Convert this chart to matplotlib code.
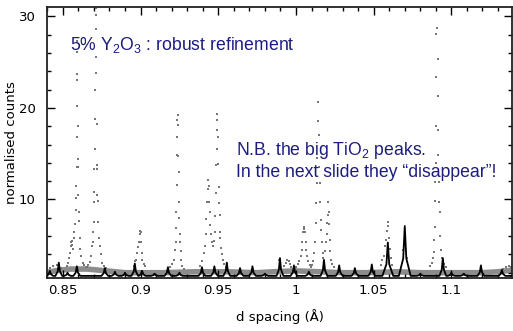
import matplotlib
matplotlib.use("Agg")
import matplotlib.pyplot as plt
from matplotlib.ticker import MultipleLocator

plt.rcParams['mathtext.fontset'] = 'custom'
plt.rcParams['mathtext.rm'] = 'Liberation Sans'

obs_d = [
    # peak near 0.859
    0.8526, 0.8533, 0.8540, 0.8546, 0.8550, 0.8554, 0.8558, 0.8562, 0.8566, 0.8570,
    0.8574, 0.8578, 0.8582, 0.8585, 0.8587, 0.8588, 0.8589, 0.8590, 0.8588, 0.8590,
    0.8592, 0.8594, 0.8595, 0.8596, 0.8597, 0.8599, 0.8601, 0.8603, 0.8608, 0.8613,
    0.8618, 0.8627, 0.8636, 0.8648, 0.8655, 0.8665,
    # peak near 0.871
    0.8675, 0.8683, 0.8690, 0.8693, 0.8697, 0.8699, 0.8701, 0.8702, 0.8703, 0.8706,
    0.8708, 0.8709, 0.8711, 0.8712, 0.8713, 0.8714, 0.8715, 0.8717, 0.8719, 0.8720,
    0.8722, 0.8723, 0.8727, 0.8733, 0.8738, 0.8744, 0.8752, 0.8762, 0.8775,
    # small bumps 0.843-0.85
    0.8420, 0.8435, 0.8465, 0.8478, 0.8490,
    # peak near 0.900
    0.8955, 0.8962, 0.8972, 0.8980, 0.8986, 0.8990, 0.8994, 0.8997, 0.9000, 0.9003,
    0.9007, 0.9012, 0.9020, 0.9030,
    # peak near 0.924
    0.9190, 0.9205, 0.9215, 0.9222, 0.9226, 0.9229, 0.9231, 0.9233, 0.9235, 0.9236,
    0.9237, 0.9238, 0.9241, 0.9243, 0.9245, 0.9247, 0.9250, 0.9252, 0.9255, 0.9257,
    0.9262, 0.9268, 0.9280,
    # doublet near 0.944 / 0.950
    0.9385, 0.9398, 0.9408, 0.9415, 0.9420, 0.9424, 0.9428, 0.9431, 0.9434, 0.9440,
    0.9443, 0.9446, 0.9450, 0.9455, 0.9460, 0.9466, 0.9472, 0.9478, 0.9482, 0.9485,
    0.9487, 0.9489, 0.9491, 0.9493, 0.9495, 0.9498, 0.9500, 0.9502, 0.9505, 0.9508,
    0.9511, 0.9514, 0.9518, 0.9522, 0.9530, 0.9540, 0.9552, 0.9556,
    # bumps near 0.990-0.995
    0.9893, 0.9925, 0.9935, 0.9945, 0.9952, 0.9960, 0.9970,
    # peak near 1.005
    1.0000, 1.0012, 1.0022, 1.0030, 1.0036, 1.0041, 1.0046, 1.0050, 1.0054, 1.0058,
    1.0062, 1.0066, 1.0072, 1.0078, 1.0088, 1.0098,
    # doublet near 1.014 / 1.021
    1.0100, 1.0110, 1.0118, 1.0124, 1.0129, 1.0131, 1.0134, 1.0137, 1.0140, 1.0142,
    1.0146, 1.0149, 1.0152, 1.0155, 1.0158, 1.0162, 1.0166, 1.0171, 1.0177, 1.0185,
    1.0192, 1.0197, 1.0201, 1.0204, 1.0207, 1.0211, 1.0214, 1.0218, 1.0222, 1.0227,
    1.0234, 1.0245,
    # peak near 1.059
    1.0545, 1.0555, 1.0565, 1.0575, 1.0582, 1.0587, 1.0590, 1.0594, 1.0598, 1.0603,
    1.0610, 1.0620, 1.0690, 1.0712,
    # peak near 1.091
    1.0865, 1.0875, 1.0883, 1.0888, 1.0890, 1.0893, 1.0895, 1.0896, 1.0899, 1.0902,
    1.0903, 1.0904, 1.0907, 1.0911, 1.0912, 1.0913, 1.0917, 1.0919, 1.0922, 1.0925,
    1.0927, 1.0932, 1.0938, 1.0946, 1.0955, 1.0965,
    # right end
    1.1190, 1.1330, 1.1350, 1.1370, 1.1385,
]
obs_counts = [
    2.7, 3.1, 3.6, 4.2, 4.9, 5.4, 5.5, 5.0, 4.6, 5.8,
    6.5, 7.3, 8.8, 10.2, 11.5, 13.5, 16.8, 20.2, 23.1, 26.1,
    27.3, 23.7, 18.0, 14.4, 13.6, 10.5, 8.6, 7.7, 5.8, 4.6,
    3.8, 3.1, 2.8, 2.6, 2.6, 2.8,
    3.2, 3.8, 4.9, 5.4, 6.4, 7.5, 9.7, 10.8, 13.3, 15.5,
    18.8, 22.0, 25.6, 28.6, 30.2, 30.9, 23.8, 18.3, 13.8, 13.3,
    10.5, 9.8, 7.5, 5.8, 4.9, 4.0, 3.1, 2.7, 2.5,
    2.5, 2.7, 2.8, 2.6, 2.5,
    2.7, 3.3, 3.4, 4.2, 4.8, 5.4, 6.2, 6.6, 6.5, 5.4,
    4.2, 3.4, 3.0, 2.7,
    2.6, 3.0, 3.4, 4.5, 5.4, 6.9, 8.6, 11.6, 14.9, 16.8,
    18.7, 19.2, 18.1, 14.7, 13.0, 9.7, 8.0, 6.2, 5.4, 4.4,
    3.4, 2.7, 2.4,
    2.7, 3.3, 4.1, 4.9, 6.2, 7.9, 9.7, 11.1, 12.1, 11.5,
    9.7, 8.6, 7.2, 6.2, 5.3, 4.9, 5.5, 6.5, 8.2, 10.7,
    13.8, 15.5, 17.6, 18.7, 19.3, 16.8, 13.9, 11.4, 9.6, 8.3,
    6.5, 5.8, 4.7, 4.0, 3.4, 2.9, 2.6, 3.0,
    3.4, 2.7, 3.1, 3.4, 3.3, 3.0, 2.6,
    2.6, 2.9, 3.3, 3.8, 4.5, 5.4, 6.4, 6.8, 7.0, 6.4,
    5.4, 4.5, 3.8, 3.3, 2.8, 2.6,
    2.8, 3.3, 4.2, 5.4, 7.4, 9.6, 11.8, 14.5, 18.6, 20.7,
    17.0, 13.5, 11.8, 9.7, 7.8, 6.7, 5.4, 4.2, 3.6, 4.4,
    5.3, 6.2, 7.4, 8.3, 9.7, 8.6, 7.3, 5.6, 4.4, 3.4,
    2.9, 2.6,
    2.8, 3.4, 3.8, 4.9, 5.6, 6.6, 7.5, 7.1, 5.8, 4.6,
    3.6, 2.8, 4.5, 3.6,
    2.7, 3.1, 3.6, 4.3, 5.6, 7.0, 9.8, 11.9, 14.0, 18.0,
    23.4, 28.1, 28.7, 25.3, 21.3, 17.6, 14.9, 11.9, 9.7, 8.6,
    6.0, 4.5, 3.6, 3.4, 2.9, 2.6,
    2.6, 2.4, 2.6, 2.7, 2.6,
]

# dense observed background (grey band)
band_d = [0.8390, 0.8450, 0.8500, 0.8550, 0.8655, 0.8780, 0.8900, 0.9050, 0.9150,
          0.9350, 0.9550, 0.9750, 0.9850, 1.0000, 1.0300, 1.0450, 1.0650, 1.0800,
          1.1000, 1.1200, 1.1300, 1.1400]
band_counts = [2.0, 2.2, 2.3, 2.4, 2.4, 2.2, 2.0, 2.0, 2.0,
               2.1, 2.1, 2.0, 2.1, 2.2, 2.0, 2.0, 2.1, 2.0,
               2.0, 2.0, 2.1, 2.3]

# calculated profile (black line)
calc_d = [
    0.8390,
    0.8394, 0.8409, 0.8416, 0.8423, 0.8438,
    0.8452, 0.8467, 0.8474, 0.8481, 0.8496,
    0.8508, 0.8523, 0.8530, 0.8537, 0.8552,
    0.8568, 0.8583, 0.8590, 0.8597, 0.8612,
    0.8748, 0.8763, 0.8770, 0.8777, 0.8792,
    0.8813, 0.8828, 0.8835, 0.8842, 0.8857,
    0.8878, 0.8893, 0.8900, 0.8907, 0.8922,
    0.8941, 0.8956, 0.8963, 0.8970, 0.8985,
    0.8988, 0.9003, 0.9010, 0.9017, 0.9032,
    0.9068, 0.9083, 0.9090, 0.9097, 0.9112,
    0.9154, 0.9169, 0.9176, 0.9183, 0.9198,
    0.9228, 0.9243, 0.9250, 0.9257, 0.9272,
    0.9373, 0.9388, 0.9395, 0.9402, 0.9417,
    0.9453, 0.9468, 0.9475, 0.9482, 0.9497,
    0.9533, 0.9548, 0.9555, 0.9562, 0.9577,
    0.9618, 0.9633, 0.9640, 0.9647, 0.9662,
    0.9698, 0.9713, 0.9720, 0.9727, 0.9742,
    0.9778, 0.9793, 0.9800, 0.9807, 0.9822,
    0.9875, 0.9890, 0.9897, 0.9904, 0.9919,
    0.9965, 0.9980, 0.9987, 0.9994, 1.0009,
    1.0061, 1.0076, 1.0083, 1.0090, 1.0105,
    1.0158, 1.0173, 1.0180, 1.0187, 1.0202,
    1.0256, 1.0271, 1.0278, 1.0285, 1.0300,
    1.0357, 1.0372, 1.0379, 1.0386, 1.0401,
    1.0466, 1.0481, 1.0488, 1.0495, 1.0510,
    1.0556, 1.0582, 1.0591, 1.0600, 1.0626,
    1.0662, 1.0690, 1.0700, 1.0710, 1.0738,
    1.0778, 1.0793, 1.0800, 1.0807, 1.0822,
    1.0923, 1.0938, 1.0945, 1.0952, 1.0967,
    1.0978, 1.0993, 1.1000, 1.1007, 1.1022,
    1.1058, 1.1073, 1.1080, 1.1087, 1.1102,
    1.1168, 1.1183, 1.1190, 1.1197, 1.1212,
    1.1303, 1.1318, 1.1325, 1.1332, 1.1347,
    1.1400,
]
calc_counts = [
    1.65,
    1.65, 1.84, 2.2, 1.84, 1.65,
    1.65, 2.16, 3.1, 2.16, 1.65,
    1.65, 1.77, 2.0, 1.77, 1.65,
    1.65, 2.02, 2.7, 2.02, 1.65,
    1.65, 1.95, 2.5, 1.95, 1.65,
    1.65, 1.81, 2.1, 1.81, 1.65,
    1.65, 1.77, 2.0, 1.77, 1.65,
    1.65, 2.12, 3.0, 2.12, 1.65,
    1.65, 1.84, 2.2, 1.84, 1.65,
    1.65, 1.74, 1.9, 1.74, 1.65,
    1.65, 1.98, 2.6, 1.98, 1.65,
    1.65, 1.77, 2.0, 1.77, 1.65,
    1.65, 1.98, 2.6, 1.98, 1.65,
    1.65, 2.02, 2.7, 2.02, 1.65,
    1.65, 2.16, 3.1, 2.16, 1.65,
    1.65, 1.95, 2.5, 1.95, 1.65,
    1.65, 2.02, 2.7, 2.02, 1.65,
    1.65, 1.74, 1.9, 1.74, 1.65,
    1.65, 2.33, 3.6, 2.33, 1.65,
    1.65, 2.05, 2.8, 2.05, 1.65,
    1.65, 1.81, 2.1, 1.81, 1.65,
    1.65, 2.26, 3.4, 2.26, 1.65,
    1.65, 2.05, 2.8, 2.05, 1.65,
    1.65, 1.95, 2.5, 1.95, 1.65,
    1.65, 2.09, 2.9, 2.09, 1.65,
    1.65, 2.93, 5.3, 2.93, 1.65,
    1.65, 3.56, 7.1, 3.56, 1.65,
    1.65, 1.74, 1.9, 1.74, 1.65,
    1.65, 2.33, 3.6, 2.33, 1.65,
    1.65, 1.77, 2.0, 1.77, 1.65,
    1.65, 1.74, 1.9, 1.74, 1.65,
    1.65, 2.05, 2.8, 2.05, 1.65,
    1.65, 1.88, 2.3, 1.88, 1.65,
    1.65,
]

x_ticks = [0.85, 0.9, 0.95, 1.0, 1.05, 1.1]
x_tick_labels = ['0.85', '0.9', '0.95', '1', '1.05', '1.1']
y_ticks = [10, 20, 30]

fig = plt.figure(figsize=(5.13, 3.31), dpi=100)
ax = fig.add_axes([47 / 513, 1 - 278 / 331, 465 / 513, (278 - 7.3) / 331])

ax.plot(band_d, band_counts, color='#8c8c8c', lw=4.0, solid_joinstyle='round', zorder=1)
ax.plot(obs_d, obs_counts, ls='none', marker='s', ms=1.7, mew=0,
        color='#777777', zorder=2)
ax.plot(calc_d, calc_counts, color='black', lw=1.3, zorder=3)

ax.set_xlim(0.8398, 1.139)
ax.set_ylim(1.42, 31.0)
ax.set_xticks(x_ticks)
ax.set_xticklabels(x_tick_labels)
ax.set_yticks(y_ticks)
ax.xaxis.set_minor_locator(MultipleLocator(0.01))
ax.yaxis.set_minor_locator(MultipleLocator(2))
ax.tick_params(which='both', direction='in', top=True, right=True, labelsize=9.5,
               width=1.0, colors='black')
ax.tick_params(which='major', length=5.5)
ax.tick_params(which='minor', length=3)
ax.tick_params(axis='x', which='major', pad=4)
ax.tick_params(axis='y', which='major', pad=8)
for s in ax.spines.values():
    s.set_linewidth(1.3)
    s.set_color('#222222')

ax.set_xlabel('d spacing (Å)', fontsize=9.5, labelpad=9)
ax.set_ylabel('normalised counts', fontsize=9.5, labelpad=0.5)

navy = '#1c1c80'
fig.text(70 / 513, 1 - 50 / 331, r'5% Y$_\mathrm{2}$O$_\mathrm{3}$ : robust refinement',
         fontsize=12.7, color=navy, family='Liberation Sans', va='baseline')
fig.text(236 / 513, 1 - 155 / 331, r'N.B. the big TiO$_\mathrm{2}$ peaks.',
         fontsize=12.7, color=navy, family='Liberation Sans', va='baseline')
fig.text(236 / 513, 1 - 177 / 331, 'In the next slide they \u201cdisappear\u201d!',
         fontsize=12.7, color=navy, family='Liberation Sans', va='baseline')

fig.savefig('out.png', dpi=100)
